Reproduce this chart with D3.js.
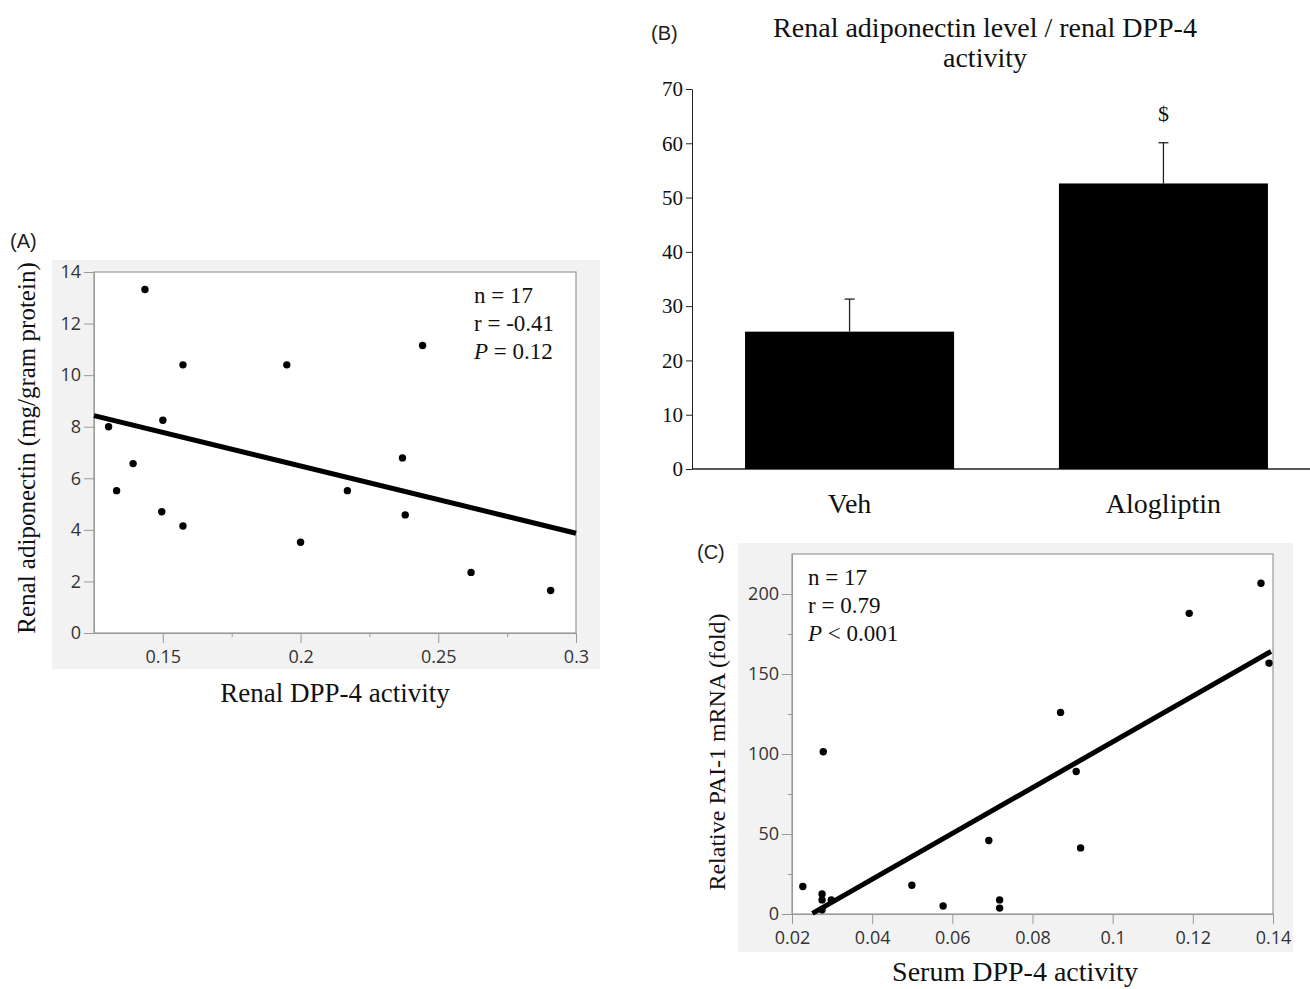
<!DOCTYPE html>
<html lang="en">
<head>
<meta charset="UTF-8">
<title>Renal DPP-4, adiponectin and PAI-1</title>
<script src="https://d3js.org/d3.v7.min.js"></script>
<style>
  body { margin: 0; background: #fff; }
  .serif { font-family: "Liberation Serif", "Times New Roman", serif; fill: #111; }
  .sans-axis text { font-family: "Open Sans", sans-serif; font-size: 18px; fill: #333; }
  .sans-axis path, .sans-axis line { stroke: #999; }
  .serif-axis text { font-family: "Liberation Serif", serif; font-size: 21px; fill: #111; }
  .serif-axis path, .serif-axis line { stroke: #222; }
  .tag { font-family: "Liberation Sans", Arial, sans-serif; font-size: 20px; fill: #222; }
</style>
</head>
<body>
<svg width="1310" height="989"></svg>
<script>
// ---- (A) renal DPP-4 activity vs renal adiponectin
const aDpp4   = [0.1303, 0.1332, 0.1392, 0.1435, 0.1500, 0.1496, 0.1573, 0.1573,
                 0.1950, 0.2000, 0.2170, 0.2370, 0.2380, 0.2443, 0.2619, 0.2908];
const aAdipo  = [8.0, 5.52, 6.57, 13.32, 8.25, 4.70, 10.40, 4.15,
                 10.40, 3.52, 5.52, 6.79, 4.58, 11.15, 2.35, 1.65];
const aFitX   = [0.125, 0.3];
const aFitY   = [8.43, 3.87];
const aXTicks = [0.15, 0.2, 0.25, 0.3];
const aXMinor = [0.175, 0.225, 0.275];
const aYTicks = [0, 2, 4, 6, 8, 10, 12, 14];
const aStats  = [["", "n = 17"], ["", "r = -0.41"], ["P", " = 0.12"]];

// ---- (B) adiponectin / DPP-4 ratio
const bGroups = ["Veh", "Alogliptin"];
const bMeans  = [25.3, 52.6];
const bErrs   = [6.0, 7.5];
const bMarks  = ["", "$"];
const bYTicks = [0, 10, 20, 30, 40, 50, 60, 70];

// ---- (C) serum DPP-4 activity vs PAI-1 mRNA
const cDpp4   = [0.0227, 0.0275, 0.0275, 0.0298, 0.0275, 0.0499, 0.0577, 0.0718, 0.0718,
                 0.0278, 0.0691, 0.0870, 0.0909, 0.0920, 0.1191, 0.1370, 0.1390];
const cPai1   = [17.2, 12.5, 8.8, 8.8, 2.6, 18.0, 5.0, 8.8, 3.7,
                 101.4, 45.9, 126.0, 89.1, 41.3, 187.9, 206.7, 156.8];
const cFitX   = [0.0251, 0.1395];
const cFitY   = [0.4, 164.1];
const cXTicks = [0.02, 0.04, 0.06, 0.08, 0.1, 0.12, 0.14];
const cYTicks = [0, 50, 100, 150, 200];
const cYMinor = [25, 75, 125, 175];
const cStats  = [["", "n = 17"], ["", "r = 0.79"], ["P", " < 0.001"]];

let svg = d3.select("svg");
svg.append("rect").attr("width", 1310).attr("height", 989).attr("fill", "#fff");

// draws one JMP-style scatter panel
function scatter(o) {
  let x = d3.scaleLinear().domain(o.xDomain).range(o.xRange);
  let y = d3.scaleLinear().domain(o.yDomain).range(o.yRange);

  svg.append("rect")
    .attr("x", o.bg[0]).attr("y", o.bg[1])
    .attr("width", o.bg[2] - o.bg[0]).attr("height", o.bg[3] - o.bg[1])
    .attr("fill", "#f2f2f2");
  svg.append("rect")
    .attr("x", o.xRange[0]).attr("y", o.yRange[1])
    .attr("width", o.xRange[1] - o.xRange[0]).attr("height", o.yRange[0] - o.yRange[1])
    .attr("fill", "#fff").attr("stroke", "#999").attr("stroke-width", 1.2);

  let bottom = o.yRange[0], left = o.xRange[0];
  svg.append("g").attr("class", "sans-axis")
    .attr("transform", "translate(0," + bottom + ")")
    .call(d3.axisBottom(x).tickValues(o.xTicks).tickFormat(d => String(d))
      .tickSize(10).tickSizeOuter(0).tickPadding(7));
  if (o.xMinor) {
    svg.append("g").attr("class", "sans-axis")
      .attr("transform", "translate(0," + bottom + ")")
      .call(d3.axisBottom(x).tickValues(o.xMinor).tickFormat("").tickSize(4).tickSizeOuter(0));
  }
  svg.append("g").attr("class", "sans-axis")
    .attr("transform", "translate(" + left + ",0)")
    .call(d3.axisLeft(y).tickValues(o.yTicks).tickFormat(d => String(d))
      .tickSize(10).tickSizeOuter(0).tickPadding(3));
  if (o.yMinor) {
    svg.append("g").attr("class", "sans-axis")
      .attr("transform", "translate(" + left + ",0)")
      .call(d3.axisLeft(y).tickValues(o.yMinor).tickFormat("").tickSize(4).tickSizeOuter(0));
  }

  svg.append("line")
    .attr("x1", x(o.fitX[0])).attr("y1", y(o.fitY[0]))
    .attr("x2", x(o.fitX[1])).attr("y2", y(o.fitY[1]))
    .attr("stroke", "#000").attr("stroke-width", 5);

  svg.append("g").selectAll("circle")
    .data(o.xs)
    .enter().append("circle")
      .attr("cx", d => x(d))
      .attr("cy", (d, i) => y(o.ys[i]))
      .attr("r", 3.7)
      .attr("fill", "#000");

  let st = svg.append("text").attr("class", "serif")
    .attr("font-size", o.statSize);
  o.stats.forEach(function(s, i) {
    let line = st.append("tspan").attr("x", o.statPos[0]).attr("y", o.statPos[1] + i * 28);
    if (s[0]) line.append("tspan").attr("font-style", "italic").text(s[0]);
    line.append("tspan").text(s[1]);
  });

  svg.append("text").attr("class", "serif")
    .attr("font-size", o.xTitleSize)
    .attr("text-anchor", "middle")
    .attr("x", o.xTitlePos[0]).attr("y", o.xTitlePos[1])
    .text(o.xTitle);
  svg.append("text").attr("class", "serif")
    .attr("font-size", o.yTitleSize)
    .attr("text-anchor", "middle")
    .attr("transform", "translate(" + o.yTitlePos[0] + "," + o.yTitlePos[1] + ") rotate(-90)")
    .text(o.yTitle);
}

scatter({
  xs: aDpp4, ys: aAdipo, fitX: aFitX, fitY: aFitY,
  xDomain: [0.125, 0.3], xRange: [94, 576],
  yDomain: [0, 14], yRange: [633, 272],
  bg: [52, 260, 600, 669],
  xTicks: aXTicks, xMinor: aXMinor, yTicks: aYTicks,
  stats: aStats, statPos: [474, 303], statSize: 23,
  xTitle: "Renal DPP-4 activity", xTitlePos: [335, 702], xTitleSize: 27,
  yTitle: "Renal adiponectin (mg/gram protein)", yTitlePos: [35, 448], yTitleSize: 25
});

scatter({
  xs: cDpp4, ys: cPai1, fitX: cFitX, fitY: cFitY,
  xDomain: [0.02, 0.14], xRange: [792, 1273],
  yDomain: [0, 225], yRange: [914, 554],
  bg: [738, 543, 1293, 952],
  xTicks: cXTicks, yTicks: cYTicks, yMinor: cYMinor,
  stats: cStats, statPos: [808, 585], statSize: 23,
  xTitle: "Serum DPP-4 activity", xTitlePos: [1015, 981], xTitleSize: 28,
  yTitle: "Relative PAI-1 mRNA (fold)", yTitlePos: [725, 752], yTitleSize: 24
});

// ---- (B) bar chart
let bx = d3.scaleBand().domain(bGroups).range([692, 1321]).paddingInner(0.334).paddingOuter(0.169);
let by = d3.scaleLinear().domain([0, 70]).range([469, 89]);

svg.append("g").attr("class", "serif-axis")
  .attr("transform", "translate(692,0)")
  .call(d3.axisLeft(by).tickValues(bYTicks).tickSize(6).tickSizeOuter(0).tickPadding(3));
svg.append("line")
  .attr("x1", 692).attr("x2", 1310).attr("y1", by(0)).attr("y2", by(0))
  .attr("stroke", "#222").attr("stroke-width", 1.3);

svg.append("g").selectAll("line")
  .data(bGroups)
  .enter().append("line")
    .attr("x1", d => bx(d) + bx.bandwidth() / 2)
    .attr("x2", d => bx(d) + bx.bandwidth() / 2)
    .attr("y1", (d, i) => by(bMeans[i]))
    .attr("y2", (d, i) => by(bMeans[i] + bErrs[i]))
    .attr("stroke", "#222").attr("stroke-width", 1.3);
svg.append("g").selectAll("line")
  .data(bGroups)
  .enter().append("line")
    .attr("x1", d => bx(d) + bx.bandwidth() / 2 - 5)
    .attr("x2", d => bx(d) + bx.bandwidth() / 2 + 5)
    .attr("y1", (d, i) => by(bMeans[i] + bErrs[i]))
    .attr("y2", (d, i) => by(bMeans[i] + bErrs[i]))
    .attr("stroke", "#222").attr("stroke-width", 1.3);

svg.append("g").selectAll("rect")
  .data(bGroups)
  .enter().append("rect")
    .attr("x", d => bx(d))
    .attr("y", (d, i) => by(bMeans[i]))
    .attr("width", bx.bandwidth())
    .attr("height", (d, i) => by(0) - by(bMeans[i]))
    .attr("fill", "#000");

svg.append("g").selectAll("text")
  .data(bGroups)
  .enter().append("text")
    .attr("class", "serif")
    .attr("font-size", 22)
    .attr("text-anchor", "middle")
    .attr("x", d => bx(d) + bx.bandwidth() / 2)
    .attr("y", (d, i) => by(bMeans[i] + bErrs[i]) - 22)
    .text((d, i) => bMarks[i]);

svg.append("g").selectAll("text")
  .data(bGroups)
  .enter().append("text")
    .attr("class", "serif")
    .attr("font-size", 28)
    .attr("text-anchor", "middle")
    .attr("x", d => bx(d) + bx.bandwidth() / 2)
    .attr("y", 513)
    .text(d => d);

svg.append("text").attr("class", "serif")
  .attr("font-size", 28).attr("text-anchor", "middle")
  .attr("x", 985).attr("y", 37)
  .text("Renal adiponectin level / renal DPP-4");
svg.append("text").attr("class", "serif")
  .attr("font-size", 28).attr("text-anchor", "middle")
  .attr("x", 985).attr("y", 67)
  .text("activity");

// panel tags
svg.append("text").attr("class", "tag").attr("x", 10).attr("y", 248).text("(A)");
svg.append("text").attr("class", "tag").attr("x", 651).attr("y", 40).text("(B)");
svg.append("text").attr("class", "tag").attr("x", 697).attr("y", 559).text("(C)");
</script>
</body>
</html>
